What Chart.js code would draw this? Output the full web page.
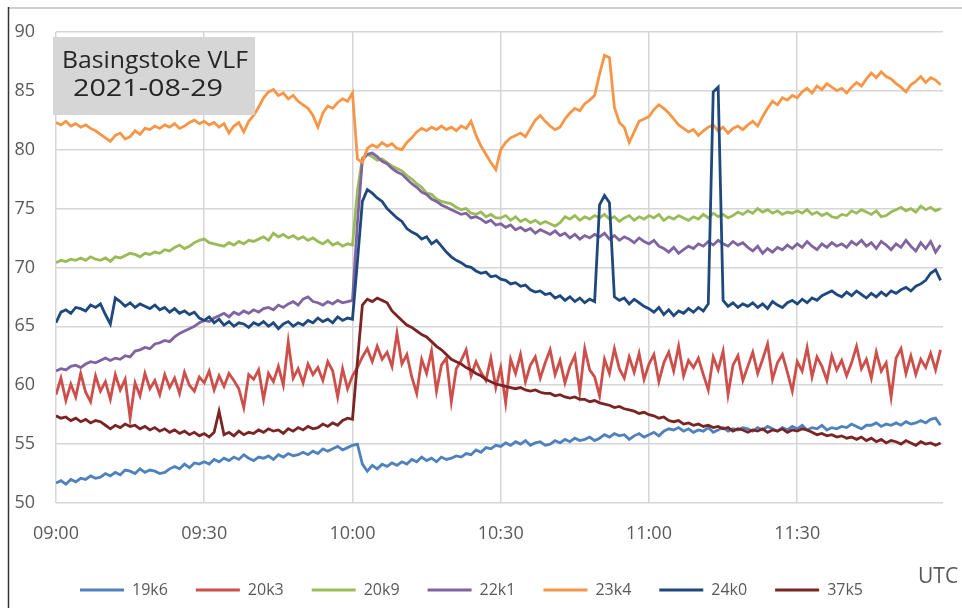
<!DOCTYPE html>
<html lang="en">
<head>
    <meta charset="UTF-8">
    <title>Basingstoke VLF 2021-08-29</title>
    <script src="https://cdn.jsdelivr.net/npm/chart.js"></script>
    <style>
        html, body { margin: 0; padding: 0; background: #fff; }
        canvas { display: block; }
    </style>
</head>
<body>
<canvas id="vlfChart" width="962" height="608"></canvas>
<script>
    // one reading per minute, starting at 09:00 UTC
    const seriesNames = ['19k6', '20k3', '20k9', '22k1', '23k4', '24k0', '37k5'];
    const seriesColors = ['#4F81BD', '#CD4F4B', '#9BBB59', '#8064A2', '#F79646', '#1F497D', '#7B2424'];
    const xTickPositions = [0, 30, 60, 90, 120, 150];
    const xTickLabels = ['09:00', '09:30', '10:00', '10:30', '11:00', '11:30'];

    const s19k6 = [
        51.7, 51.9, 51.6, 52.0, 51.8, 52.1, 52.0, 52.3, 52.1, 52.2,
        52.5, 52.3, 52.6, 52.4, 52.8, 52.7, 52.5, 52.9, 52.6, 52.8,
        52.7, 52.5, 52.6, 52.9, 53.1, 52.9, 53.3, 53.0, 53.4, 53.3,
        53.5, 53.3, 53.7, 53.5, 53.8, 53.6, 53.9, 53.7, 54.1, 53.8,
        53.6, 53.9, 53.8, 54.0, 53.7, 54.1, 53.9, 54.2, 54.0, 54.1,
        54.3, 54.1, 54.4, 54.2, 54.6, 54.4, 54.6, 54.8, 54.5, 54.7,
        54.9, 55.0, 53.3, 52.7, 53.2, 52.9, 53.3, 53.1, 53.4, 53.2,
        53.5, 53.3, 53.7, 53.5, 53.9, 53.6, 53.8, 53.5, 53.9, 53.7,
        53.8, 54.0, 53.9, 54.2, 54.1, 54.5, 54.3, 54.7, 54.6, 54.9,
        54.8, 55.1, 54.9, 55.2, 55.0, 55.3, 54.9, 55.1, 55.2, 54.9,
        55.0, 55.3, 55.1, 55.4, 55.2, 55.5, 55.3, 55.4, 55.6, 55.3,
        55.5, 55.8, 55.6, 55.9, 55.7, 55.8, 55.4, 55.7, 55.9, 55.6,
        55.8, 56.0, 55.7, 56.1, 56.3, 56.2, 56.4, 56.1, 56.3, 56.0,
        56.2, 56.1, 56.4, 56.0, 56.2, 56.4, 56.1, 56.3, 56.2, 56.4,
        56.3, 56.1, 56.4, 56.2, 56.5, 56.3, 56.1, 56.4, 56.2, 56.5,
        56.3, 56.6, 56.2, 56.4, 56.3, 56.6, 56.2, 56.4, 56.3, 56.5,
        56.4, 56.7, 56.5, 56.3, 56.6, 56.6, 56.8, 56.5, 56.7, 56.6,
        56.8, 56.6, 56.9, 56.7, 56.8, 57.0, 56.8, 57.1, 57.2, 56.6
    ];
    const s20k3 = [
        59.2, 60.6, 58.7, 60.1, 59.0, 61.0, 59.4, 58.6, 60.8, 59.5,
        60.3, 58.8, 60.9, 59.6, 60.5, 57.2, 60.2, 59.1, 61.0, 59.7,
        60.4, 59.2, 60.9, 59.8, 60.6, 59.3, 61.1, 60.0, 59.5, 60.7,
        60.2, 61.2, 59.6, 60.8, 59.9, 61.0, 60.4, 59.7, 58.1, 60.9,
        60.5, 61.3, 58.8, 61.0, 60.3, 61.6, 60.0, 63.7, 60.6, 61.4,
        60.2, 61.8, 60.9, 61.5, 60.4, 62.0, 61.2, 59.0, 61.4, 59.7,
        60.8, 61.5, 62.4, 63.1, 62.0, 63.3, 62.2, 62.8, 61.6, 64.4,
        61.8, 62.6, 60.7, 59.3, 62.2, 61.0, 62.9, 59.5, 61.7, 62.3,
        58.6, 61.4, 62.1, 63.0, 60.8, 62.0, 61.1, 60.4, 62.3, 59.8,
        61.5, 58.5, 62.2, 61.0, 62.6, 60.3, 61.7, 62.4, 60.6, 61.9,
        63.0, 60.9, 62.1, 60.2, 61.6, 62.5, 59.4, 63.1, 61.3, 60.7,
        59.1, 62.2, 61.0, 63.1, 61.4, 60.6, 62.4, 61.1, 62.7, 60.5,
        61.8, 62.6, 60.3, 61.9, 62.8, 61.2, 63.3, 60.8, 62.1, 61.5,
        62.3, 60.9, 59.6, 62.4, 61.3, 62.9, 59.2, 61.7, 62.5, 60.4,
        61.6, 62.8, 61.0, 62.2, 63.5, 60.5, 61.9, 62.6, 61.1, 59.5,
        62.0, 61.2, 63.2, 60.7, 62.4, 61.6, 60.4, 62.5, 61.3, 62.1,
        60.8, 61.9, 63.3, 61.4, 62.2, 60.6, 62.8, 61.2, 61.9, 59.0,
        62.3, 63.1, 61.0, 62.5, 60.9, 62.2, 61.5, 62.7, 61.3, 63.0
    ];
    const s20k9 = [
        70.4, 70.6, 70.5, 70.7, 70.6, 70.8, 70.6, 70.9, 70.7, 70.6,
        70.8, 70.5, 70.9, 70.8, 71.0, 71.2, 71.1, 70.9, 71.2, 71.1,
        71.3, 71.2, 71.5, 71.4, 71.7, 71.9, 71.6, 71.8, 72.1, 72.3,
        72.4, 72.1, 72.0, 71.9, 71.8, 72.1, 71.9, 72.2, 72.0, 72.3,
        72.2, 72.4, 72.6, 72.3, 72.9, 72.6, 72.8, 72.5, 72.7, 72.4,
        72.6, 72.3, 72.5, 72.2, 72.0, 72.3, 71.9, 72.1, 71.8, 72.0,
        71.9, 76.5, 79.3, 79.6, 79.4, 79.1, 79.2, 78.9, 78.6, 78.4,
        78.2, 77.8, 77.5, 77.1, 76.8, 76.3, 76.2, 75.8, 75.6, 75.5,
        75.4, 75.1, 74.9, 75.0, 74.6, 74.5, 74.7, 74.3, 74.5, 74.2,
        74.2, 74.4, 74.0, 74.3, 73.9, 74.1, 73.8, 74.0, 73.7, 73.9,
        73.7, 73.5, 73.8, 74.3, 74.1, 74.4, 74.0, 74.3, 74.1, 74.4,
        74.2, 74.5, 74.1, 74.3, 73.9, 74.2, 74.4, 74.0, 74.3, 74.1,
        74.4, 74.2, 74.5, 74.0, 74.3, 74.1, 74.4, 74.2, 74.0, 74.3,
        74.1, 74.5, 74.2, 74.6, 74.3, 74.5, 74.2, 74.4, 74.7, 74.5,
        74.8, 74.6, 75.0, 74.7, 74.9, 74.6, 74.8, 74.5, 74.7, 74.6,
        74.8, 74.6, 74.9, 74.5, 74.7, 74.4, 74.6, 74.3, 74.2, 74.5,
        74.4, 74.8, 74.6, 74.9, 74.7, 74.5, 74.8, 74.3, 74.4, 74.7,
        74.9, 75.1, 74.8, 75.0, 74.7, 75.2, 74.9, 75.1, 74.8, 75.0
    ];
    const s22k1 = [
        61.2, 61.4, 61.3, 61.6, 61.7, 61.5, 61.8, 62.0, 61.9, 62.1,
        62.3, 62.1, 62.3, 62.2, 62.5, 62.4, 62.9, 63.0, 63.2, 63.1,
        63.5, 63.6, 63.8, 63.7, 64.1, 64.4, 64.6, 64.8, 65.0, 65.3,
        65.5, 65.4, 65.7, 65.9, 66.1, 65.8, 66.2, 66.0, 66.3, 66.1,
        66.4, 66.2, 66.5, 66.6, 66.4, 66.8, 66.6, 66.9, 67.1, 66.8,
        67.3, 67.5, 67.1, 67.0, 66.8, 67.1, 66.9, 67.2, 67.0, 67.1,
        67.2, 73.8, 79.1, 79.6, 79.7, 79.4, 79.0, 78.8, 78.4, 78.1,
        77.9, 77.5, 77.1, 76.8, 76.4, 76.2, 75.8, 75.6, 75.3, 75.1,
        74.9, 74.7, 74.5, 74.6, 74.2, 74.3, 74.1, 73.8, 74.0, 73.6,
        73.7, 73.4, 73.6, 73.2, 73.4, 73.1, 73.3, 72.9, 73.2, 73.0,
        72.8, 73.1, 72.7, 72.9, 72.5, 72.8, 72.4, 72.7, 72.5, 72.8,
        72.6, 72.9, 72.4, 72.7, 72.3, 72.6, 72.4, 72.1, 72.5, 72.2,
        72.0, 72.3, 71.8, 71.6, 71.3, 71.7, 71.2, 71.5, 71.8, 71.6,
        72.0, 71.8, 72.2, 71.9, 72.3, 72.0, 71.8, 72.2, 71.9, 72.1,
        71.7, 71.4, 71.8, 71.2, 71.6, 71.3, 71.7, 71.5, 71.9, 71.6,
        72.0, 71.7, 72.2, 71.8, 71.5, 72.0, 71.7, 72.1, 71.8, 72.0,
        71.7, 72.2, 71.9, 72.3, 71.8, 72.1, 71.6, 72.2, 71.9, 71.5,
        72.0, 71.7, 72.3, 71.8, 71.4, 72.1, 71.6, 72.2, 71.3, 71.9
    ];
    const s23k4 = [
        82.3, 82.1, 82.4, 82.0, 82.2, 81.9, 82.1, 81.8, 81.6, 81.3,
        81.0, 80.7, 81.2, 81.4, 80.9, 81.1, 81.6, 81.3, 81.8, 81.7,
        82.0, 81.8, 82.1, 81.9, 82.2, 81.8, 82.0, 82.3, 82.5, 82.2,
        82.4, 82.1, 82.3, 81.9, 82.2, 81.4, 82.0, 82.3, 81.5, 82.4,
        82.9, 83.6, 84.4, 84.9, 85.1, 84.6, 84.8, 84.3, 84.6, 84.1,
        83.8, 83.5, 82.9, 81.9, 83.1, 83.7, 83.5, 84.0, 84.3, 84.1,
        84.8, 79.2, 78.9, 80.1, 80.4, 80.2, 80.6, 80.3, 80.5, 80.1,
        80.0, 80.6, 81.0, 81.5, 81.8, 81.6, 81.9, 81.7, 82.0, 81.7,
        81.9, 81.6, 82.0, 81.8, 82.4, 81.2, 80.3, 79.6, 78.9, 78.3,
        80.0, 80.6, 81.0, 81.2, 81.4, 81.1, 81.8, 82.5, 82.9, 82.4,
        82.0, 81.7, 81.9, 82.6, 83.1, 83.5, 83.3, 83.9, 84.2, 84.6,
        86.4, 88.0, 87.8, 83.6, 82.3, 81.9, 80.6, 81.5, 82.4, 82.6,
        82.8, 83.4, 83.8, 83.5, 83.1, 82.6, 82.1, 81.8, 81.5, 81.7,
        81.2, 81.6, 81.9, 82.1, 81.6, 81.9, 81.4, 81.8, 82.0, 81.7,
        82.1, 82.4, 82.0, 82.8, 83.5, 84.1, 83.8, 84.4, 84.2, 84.6,
        84.4, 84.9, 85.2, 84.8, 85.4, 85.1, 85.6, 85.3, 85.0, 85.2,
        84.8, 85.3, 85.7, 85.4, 86.0, 86.5, 86.1, 86.6, 86.2, 86.0,
        85.6, 85.3, 84.9, 85.5, 85.8, 86.2, 85.7, 86.1, 85.9, 85.5
    ];
    const s24k0 = [
        65.3, 66.2, 66.4, 66.1, 66.6, 66.5, 66.3, 66.8, 66.6, 66.9,
        66.0, 65.2, 67.4, 67.1, 66.7, 67.0, 66.6, 66.9, 66.7, 66.5,
        66.8, 66.4, 66.6, 66.2, 66.5, 66.1, 66.3, 66.0, 66.2, 65.7,
        65.5, 65.8, 65.3, 65.6, 65.1, 65.4, 65.0, 65.3, 65.2, 64.9,
        65.3, 65.1, 65.4, 65.0, 65.3, 64.8, 65.2, 65.4, 65.0, 65.3,
        65.1, 65.5, 65.3, 65.7, 65.4, 65.6, 65.3, 65.8, 65.5, 65.7,
        65.6, 70.5, 75.6, 76.6, 76.3, 75.9, 75.6, 75.0, 74.6, 74.2,
        73.9, 73.3, 73.0, 72.8, 72.4, 72.6, 72.0, 72.3, 71.8, 71.3,
        70.9, 70.6, 70.4, 70.1, 70.0, 69.7, 69.5, 69.6, 69.2, 69.3,
        69.0, 68.9, 68.6, 68.7, 68.4, 68.5, 68.1, 67.9, 68.0, 67.7,
        67.8, 67.4, 67.6, 67.2, 67.5, 67.1, 67.4, 67.0, 67.3, 67.1,
        75.3, 76.1, 75.5, 67.5, 67.2, 67.4, 66.9, 67.3, 67.0, 66.7,
        66.5, 66.2, 66.6, 66.0, 66.4, 65.9, 66.3, 66.1, 66.5, 66.2,
        66.6, 66.3, 66.9, 84.9, 85.3, 67.2, 66.7, 67.0, 66.6, 66.9,
        66.7, 67.0, 66.6, 66.9, 66.5, 67.1, 66.8, 66.6, 67.0, 67.2,
        66.9, 67.3, 67.0, 67.4, 67.2, 67.6, 67.8, 68.0, 67.7, 67.5,
        67.9, 67.6, 68.0, 67.7, 67.4, 67.8, 67.5, 67.9, 67.6, 68.0,
        67.8, 68.1, 68.3, 68.0, 68.4, 68.6, 68.9, 69.5, 69.8, 68.9
    ];
    const s37k5 = [
        57.4, 57.2, 57.3, 57.0, 57.2, 56.9, 57.1, 56.8, 57.0, 56.9,
        56.6, 56.3, 56.6, 56.4, 56.7, 56.5, 56.6, 56.3, 56.5, 56.2,
        56.4, 56.1, 56.3, 56.0, 56.2, 55.9, 56.1, 55.8, 56.0, 55.7,
        55.9, 55.6, 56.0, 57.8, 55.8, 56.0, 55.7, 56.1, 55.8, 56.0,
        55.9, 56.2, 56.0, 56.3, 56.1, 56.2, 55.9, 56.3, 56.1, 56.4,
        56.2, 56.5, 56.3, 56.4, 56.7, 56.5, 56.8, 56.6, 57.0, 57.2,
        57.1, 62.0, 66.8, 67.3, 67.1, 67.4, 67.2, 67.0, 66.3, 65.9,
        65.5, 65.1, 64.9, 64.6, 64.3, 64.1, 63.7, 63.3, 63.0, 62.6,
        62.2, 62.0, 61.8, 61.5, 61.3, 61.0, 60.8, 60.5, 60.3, 60.1,
        60.0, 59.9, 59.8, 59.7, 59.8, 59.6, 59.5, 59.6, 59.4, 59.3,
        59.3, 59.1, 59.2, 59.0, 58.9, 59.0, 58.8, 58.8, 58.6, 58.7,
        58.5, 58.4, 58.3, 58.1, 58.2, 58.0, 57.9, 57.8, 57.6, 57.7,
        57.5, 57.4, 57.2, 57.3, 57.0, 56.9, 57.0, 56.7, 56.8, 56.6,
        56.7, 56.5, 56.6, 56.4, 56.5, 56.3, 56.4, 56.1, 56.3, 56.2,
        56.0, 56.2, 56.1, 56.3, 56.0, 56.2, 56.1, 56.3, 56.0, 56.2,
        56.1, 56.3, 56.2, 56.0, 55.8, 55.9, 55.7, 55.8, 55.6, 55.7,
        55.5, 55.6, 55.4, 55.6, 55.3, 55.5, 55.2, 55.4, 55.1, 55.3,
        55.2, 55.0, 55.3, 55.1, 54.9, 55.2, 55.0, 55.1, 54.9, 55.1
    ];

    const allSeries = [s19k6, s20k3, s20k9, s22k1, s23k4, s24k0, s37k5];
    const toPoints = values => values.map((v, i) => ({ x: i, y: v }));

    Chart.defaults.font.family = "'Open Sans', sans-serif";
    Chart.defaults.color = '#595959';

    // frame, label box and the UTC caption
    const decorations = {
        id: 'decorations',
        beforeDraw(chart) {
            const ctx = chart.ctx;
            ctx.save();
            ctx.fillStyle = '#fff';
            ctx.fillRect(0, 0, chart.width, chart.height);
            ctx.strokeStyle = '#d0d0d0';
            ctx.lineWidth = 2;
            ctx.beginPath();
            ctx.moveTo(8, 8);
            ctx.lineTo(chart.width, 8);
            ctx.stroke();
            ctx.strokeStyle = '#333';
            ctx.lineWidth = 1.5;
            ctx.beginPath();
            ctx.moveTo(8.5, 7);
            ctx.lineTo(8.5, chart.height);
            ctx.stroke();
            ctx.restore();
        },
        afterDatasetsDraw(chart) {
            const ctx = chart.ctx;
            ctx.save();
            ctx.fillStyle = '#d6d6d6';
            ctx.fillRect(53, 37, 202, 78);
            ctx.fillStyle = '#262626';
            ctx.font = "24px 'Open Sans', sans-serif";
            ctx.textBaseline = 'middle';
            ctx.textAlign = 'center';
            const lines = [['Basingstoke VLF', 155, 61, 186], ['2021-08-29', 148, 89, 150]];
            lines.forEach(([text, cx, cy, w]) => {
                const k = w / ctx.measureText(text).width;
                ctx.save();
                ctx.translate(cx, cy);
                ctx.scale(k, 1);
                ctx.fillText(text, 0, 0);
                ctx.restore();
            });
            ctx.restore();
        },
        afterDraw(chart) {
            const ctx = chart.ctx;
            ctx.save();
            ctx.fillStyle = '#595959';
            ctx.font = "21px 'Open Sans', sans-serif";
            ctx.textBaseline = 'middle';
            ctx.textAlign = 'left';
            ctx.fillText('UTC', 918, 577);
            ctx.restore();
        }
    };

    new Chart(document.getElementById('vlfChart'), {
        type: 'line',
        data: {
            datasets: seriesNames.map((name, i) => ({
                label: name,
                data: toPoints(allSeries[i]),
                borderColor: seriesColors[i],
                backgroundColor: seriesColors[i],
                borderWidth: 2.8,
                pointRadius: 0,
                tension: 0,
                order: seriesNames.length - i
            }))
        },
        options: {
            responsive: false,
            animation: false,
            devicePixelRatio: 1,
            layout: { padding: { left: 0, right: 19, top: 22, bottom: 0 } },
            plugins: {
                tooltip: { enabled: false },
                legend: {
                    position: 'bottom',
                    labels: {
                        boxWidth: 44,
                        boxHeight: 3,
                        padding: 28,
                        font: { size: 16 },
                        color: '#595959',
                        sort: (a, b) => a.datasetIndex - b.datasetIndex,
                        generateLabels(chart) {
                            return Chart.defaults.plugins.legend.labels.generateLabels(chart)
                                .map(item => Object.assign(item, { lineWidth: 0 }));
                        }
                    }
                }
            },
            scales: {
                x: {
                    type: 'linear',
                    min: 0,
                    max: 179.5,
                    afterBuildTicks(axis) {
                        axis.ticks = xTickPositions.map(v => ({ value: v }));
                    },
                    afterFit(axis) { axis.height = 51; },
                    ticks: {
                        padding: 20,
                        maxRotation: 0,
                        font: { size: 18 },
                        color: '#595959',
                        callback: value => xTickLabels[xTickPositions.indexOf(value)]
                    },
                    grid: { color: '#d6d6d6', lineWidth: 1.5, drawTicks: false },
                    border: { display: false }
                },
                y: {
                    min: 50,
                    max: 90,
                    afterFit(axis) { axis.width = 56; },
                    ticks: {
                        stepSize: 5,
                        padding: 21,
                        font: { size: 18 },
                        color: '#595959'
                    },
                    grid: { color: '#d6d6d6', lineWidth: 1.5, drawTicks: false },
                    border: { display: false }
                }
            }
        },
        plugins: [decorations]
    });
</script>
</body>
</html>
